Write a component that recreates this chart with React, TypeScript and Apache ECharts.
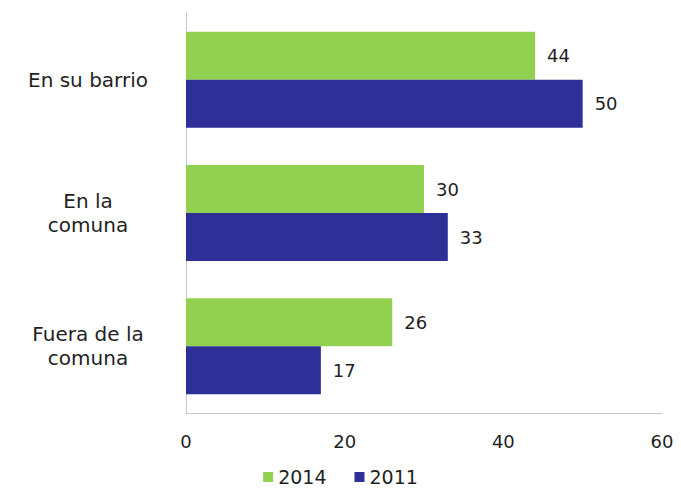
import React, { useEffect, useRef } from "react";
import * as echarts from "echarts";

const categories = ["En su barrio", "En la\ncomuna", "Fuera de la\ncomuna"];
const series2014 = [44, 30, 26];
const series2011 = [50, 33, 17];
const seriesNames = ["2014", "2011"];
const xTicks = { min: 0, max: 60, interval: 20 };

const FONT = "DejaVu Sans";
const TEXT = "#1f1f1f";

export default function App() {
  const ref = useRef<HTMLDivElement>(null);
  useEffect(() => {
    if (!ref.current) return;
    const chart = echarts.init(ref.current, undefined, { renderer: "svg" });
    chart.setOption({
      animation: false,
      backgroundColor: "#ffffff",
      textStyle: { fontFamily: FONT },
      grid: { left: 186, right: 19, top: 13, bottom: 76, containLabel: false },
      legend: {
        data: seriesNames,
        top: 467,
        left: "center",
        icon: "rect",
        itemWidth: 10,
        itemHeight: 10,
        itemGap: 28,
        padding: 0,
        textStyle: { fontFamily: FONT, fontSize: 19, color: TEXT, lineHeight: 20 },
      },
      xAxis: {
        type: "value",
        min: xTicks.min,
        max: xTicks.max,
        interval: xTicks.interval,
        splitLine: { show: false },
        axisLine: { show: true, lineStyle: { color: "#c8c8c8", width: 1 } },
        axisTick: { show: false },
        axisLabel: { fontFamily: FONT, fontSize: 18, color: TEXT, margin: 19 },
      },
      yAxis: {
        type: "category",
        data: categories,
        inverse: true,
        axisLine: { show: true, lineStyle: { color: "#c8c8c8", width: 1 } },
        axisTick: { show: false },
        axisLabel: {
          fontFamily: FONT,
          fontSize: 20,
          color: TEXT,
          align: "center",
          margin: 98,
          lineHeight: 24,
        },
      },
      series: [
        {
          name: seriesNames[0],
          type: "bar",
          data: series2014,
          barWidth: 48,
          barGap: "0%",
          itemStyle: { color: "#92D050" },
          label: {
            show: true,
            position: "right",
            distance: 12,
            fontFamily: FONT,
            fontSize: 18,
            color: TEXT,
          },
        },
        {
          name: seriesNames[1],
          type: "bar",
          data: series2011,
          barWidth: 48,
          barGap: "0%",
          itemStyle: { color: "#2F2F98" },
          label: {
            show: true,
            position: "right",
            distance: 12,
            fontFamily: FONT,
            fontSize: 18,
            color: TEXT,
          },
        },
      ],
    });
    return () => chart.dispose();
  }, []);
  return <div ref={ref} style={{ width: 681, height: 489, position: "absolute", left: 0, top: 0 }} />;
}
